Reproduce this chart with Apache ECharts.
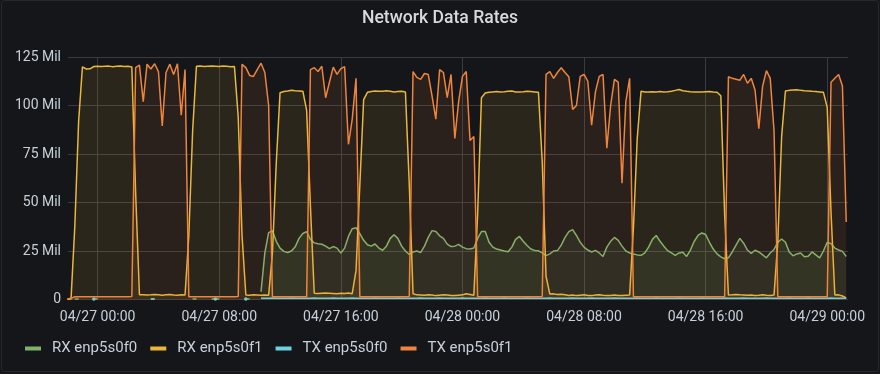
<!DOCTYPE html>
<html><head><meta charset="utf-8">
<script src="https://cdn.jsdelivr.net/npm/echarts@6/dist/echarts.min.js"></script>
<style>html,body{margin:0;padding:0;background:#161719}#c{width:880px;height:374px}</style>
</head><body><div id="c"></div>
<script>
// ---- data (values in millions) ----
const startTime = '2020-04-26T22:00';
const stepMinutes = 15;
const axisMin = '2020-04-26T22:03';
const axisMax = '2020-04-29T01:22';
const xTickTimes = ['2020-04-27T00:00','2020-04-27T08:00','2020-04-27T16:00','2020-04-28T00:00','2020-04-28T08:00','2020-04-28T16:00','2020-04-29T00:00'];
const yTicks = [0, 25, 50, 75, 100, 125];
const seriesNames = ['RX enp5s0f0', 'RX enp5s0f1', 'TX enp5s0f0', 'TX enp5s0f1'];

const rxF0 = [
null,null,0.3,0.3,null,null,null,0.3,0.3,null,
null,null,null,null,null,null,null,null,null,null,
null,null,0.3,0.3,null,null,null,null,null,null,
null,null,null,0.3,0.3,null,null,null,0.3,0.3,
0.3,null,null,null,null,null,null,0.3,0.3,null,
null,4,24,34.5,35.5,30,26.5,24.8,24.2,25,
27.2,31.5,34,35,31,29.2,28.7,28.5,27.5,26.2,
27.3,26.5,24,26.5,32.5,36.5,37,34,30.5,28.2,
27.5,28.6,26.5,25.4,27.5,31.5,33.4,31.5,27.5,25,
23.2,24.5,25,24.2,27.5,32,35.5,35,32.8,31.5,
28.5,27.3,27.5,28.4,27,26.2,26,26.5,31.5,35,
35,29.5,27,26,25.5,25,24.6,27,31,32.5,
30,27.8,26,25.3,25.1,24,22.6,23.5,25,25.2,
28,32,35,36,33,29.5,27,25.5,24.5,25.3,
24,22.2,27,30,32,30.5,27.5,25,24,23.4,
23,22.8,24,27,31,33,30,27.5,25.2,24,
22.8,24,24.3,22.2,25.5,30,33,34.3,33.5,29.5,
26,23.5,22,21,21.5,24.5,28,31.5,29,25.5,
23.8,25.4,24.5,23,21.5,24,25.8,29.5,31.2,29.5,
24.5,22.5,23.5,24,22,22.3,24.5,23,21.5,25,
29.5,28.8,26.5,25.5,24.8,22.2
];

const rxF1 = [
0,0.3,38,92,119.9,118.8,118.9,120.1,120.2,120.1,
120.2,120.3,120.0,120.2,120.4,120.1,120.2,119.8,55,2.4,
2.5,2.3,2.4,2.6,2.4,2.2,2.4,2.6,2.3,2.2,
2.4,2.3,33,87,120.2,120.3,120.1,120.2,120.3,120.2,
120.1,120.3,120.2,120.0,120.1,94,33,2.3,2.2,2.4,
2.3,2.2,2.3,2.2,24,70,106.6,107.2,107.5,107.9,
107.6,107.5,107.4,97.5,48,3.2,3.1,3.2,3.3,3.2,
3.1,3.0,3.2,3.1,3.3,3.0,15,59,103,106.8,
107.2,107.5,107.3,107.4,107.6,107.3,107.0,107.2,107.4,107.0,
60,3.0,2.4,2.3,2.2,2.5,2.3,2.0,2.2,2.4,
2.3,2.1,2.0,2.2,2.4,3.0,2.6,2.2,44,104,
106.4,106.8,107.0,107.2,107.0,107.1,107.3,107.5,107.0,106.9,
107.1,107.4,107.2,107.0,106.8,71,12,2.8,2.9,2.6,
2.7,2.5,2.1,2.3,2.0,2.2,2.4,2.1,2.0,2.3,
2.5,2.2,2.0,2.1,2.3,2.1,2.0,2.2,2.3,37,
83,107.3,107.0,106.9,107.1,107.0,107.2,107.0,107.1,107.4,
107.8,108.2,107.6,107.3,107.1,107.0,106.9,107.0,107.1,107.2,
106.9,106.8,105,44,2.3,2.4,2.6,2.4,2.3,2.2,
2.3,2.1,2.2,2.4,2.2,2.1,2.3,30,84,107.5,
107.8,108.0,108.1,107.8,107.6,107.5,107.3,107.2,107.0,106.8,
99,45,2.3,2.4,1.8,0.8
];

const txF0 = [
null,null,null,null,null,null,null,0.3,null,null,
null,null,null,null,null,null,null,null,null,null,
null,null,0.3,0.3,null,null,null,null,null,null,
null,null,null,null,null,null,null,null,null,0.3,
null,null,null,null,null,null,null,0.3,null,null,
null,0.6,0.7,0.7,0.8,0.7,0.7,0.6,0.7,0.8,
0.7,0.7,0.6,0.7,0.7,0.8,0.7,0.6,0.7,0.7,
0.8,0.7,0.7,0.6,0.7,0.8,0.7,0.7,0.7,0.6,
0.7,0.8,0.7,0.7,0.6,0.7,0.7,0.8,0.7,0.7,
0.6,0.7,0.7,0.8,0.7,0.7,0.6,0.7,0.8,0.7,
0.7,0.6,0.7,0.7,0.8,0.7,0.7,0.6,0.7,0.7,
0.8,0.7,0.7,0.6,0.7,0.8,0.7,0.7,0.7,0.6,
0.7,0.8,0.7,0.7,0.6,0.7,0.7,0.8,0.7,0.7,
0.6,0.7,0.7,0.8,0.7,0.7,0.6,0.7,0.8,0.7,
0.7,0.6,0.7,0.7,0.8,0.7,0.7,0.6,0.7,0.7,
0.8,0.7,0.7,0.6,0.7,0.8,0.7,0.7,0.7,0.6,
0.7,0.8,0.7,0.7,0.6,0.7,0.7,0.8,0.7,0.7,
0.6,0.7,0.7,0.8,0.7,0.7,0.6,0.7,0.8,0.7,
0.7,0.6,0.7,0.7,0.8,0.7,0.7,0.6,0.7,0.7,
0.8,0.7,0.7,0.6,0.7,0.8,0.7,0.7,0.7,0.6,
0.7,0.8,0.7,0.7,0.6,0.6
];

const txF1 = [
0.3,0.6,1.4,1.4,1.4,1.4,1.4,1.4,1.4,1.4,
1.4,1.4,1.4,1.4,1.4,1.4,1.4,1.5,119.5,120.8,
102,121.3,118.8,121.5,117.5,89.5,117,121.3,116,121.5,
95,118.5,1.4,1.4,1.4,1.4,1.4,1.4,1.4,1.4,
1.4,1.4,1.4,1.4,1.4,1.5,121.2,119.5,115.5,115,
118.5,121.8,117,100,1.4,1.4,1.4,1.4,1.4,1.4,
1.4,1.4,1.4,1.4,118.5,119.5,117.5,120.2,104,112,
119.8,116,119,120,80,93,114,1.4,1.4,1.4,
1.4,1.4,1.4,1.4,1.4,1.4,1.4,1.4,1.4,1.4,
1.6,117.5,114.5,113.5,116.5,116,105,93,118.5,117,
104,116,83,102,115,117.5,82,84,1.4,1.4,
1.4,1.4,1.4,1.4,1.4,1.4,1.4,1.4,1.4,1.4,
1.4,1.4,1.4,1.4,1.4,1.5,116,117.5,114,117,
119.5,117,114.8,98,100,115,116,112.5,89.8,107,
115,116,78,100,113.5,112,60,102,114,1.4,
1.4,1.4,1.4,1.4,1.4,1.4,1.4,1.4,1.4,1.4,
1.4,1.4,1.4,1.4,1.4,1.4,1.4,1.4,1.4,1.4,
1.4,1.4,1.4,1.5,114.8,114,113.5,113,116,111.5,
114,108,88,110,118,114,87,1.4,1.4,1.4,
1.4,1.4,1.4,1.4,1.4,1.4,1.4,1.4,1.4,1.4,
1.4,112,114,116,110,40
];

const seriesColors = ['#7EB26D', '#EAB839', '#6ED0E0', '#EF843C'];

// ---- build ----
const t0 = new Date(startTime).getTime();
const stepMs = stepMinutes * 60000;
function pairs(arr) { return arr.map((v, i) => [t0 + i * stepMs, v]); }
function isolatedSize(arr) {
  return function (val, params) {
    const i = params.dataIndex;
    const prev = i > 0 ? arr[i - 1] : null;
    const next = i < arr.length - 1 ? arr[i + 1] : null;
    return (arr[i] != null && prev == null && next == null) ? 3.5 : 0;
  };
}
const pad = n => (n < 10 ? '0' : '') + n;
function fmtTime(v) {
  const d = new Date(v);
  return pad(d.getMonth() + 1) + '/' + pad(d.getDate()) + ' ' + pad(d.getHours()) + ':' + pad(d.getMinutes());
}
const tickVals = xTickTimes.map(s => new Date(s).getTime());
const allData = [rxF0, rxF1, txF0, txF1];
const textColor = '#c7d0d9';
const gridColor = '#393b40';

const chart = echarts.init(document.getElementById('c'), null, { renderer: 'canvas' });
chart.setOption({
  backgroundColor: '#151619',
  animation: false,
  textStyle: { fontFamily: 'Roboto, "Noto Sans", sans-serif' },
  title: {
    text: 'Network Data Rates', left: 'center', top: 10, padding: 0,
    textStyle: { color: '#d8d9da', fontSize: 17.6, fontWeight: 500, fontFamily: 'Roboto, sans-serif' }
  },
  graphic: [{
    type: 'rect', silent: true, z: -1,
    shape: { x: 1.5, y: 0.5, width: 877, height: 371, r: 3 },
    style: { fill: 'none', stroke: '#26282c', lineWidth: 1 }
  }],
  legend: {
    left: 25, top: 341, padding: 0, icon: 'rect', itemWidth: 16, itemHeight: 4, itemGap: 13,
    data: seriesNames,
    textStyle: { color: textColor, fontSize: 15, padding: [0, 0, 0, 6], fontFamily: 'Roboto, sans-serif' }
  },
  grid: { left: 68, right: 32, top: 57, bottom: 74.5, containLabel: false },
  xAxis: {
    type: 'value',
    min: new Date(axisMin).getTime(),
    max: new Date(axisMax).getTime(),
    axisLine: { show: false },
    axisTick: { show: false, customValues: tickVals },
    axisLabel: { customValues: tickVals, formatter: fmtTime, color: textColor, fontSize: 14, margin: 11, hideOverlap: false, showMinLabel: true, showMaxLabel: true },
    splitLine: { show: true, showMinLine: true, showMaxLine: true, lineStyle: { color: gridColor, width: 1 } }
  },
  yAxis: {
    type: 'value', min: 0, max: 125, interval: 25,
    axisLine: { show: false }, axisTick: { show: false },
    axisLabel: { color: textColor, fontSize: 14, margin: 7, formatter: v => (v === 0 ? '0' : v + ' Mil') },
    splitLine: { lineStyle: { color: gridColor, width: 1 } }
  },
  series: seriesNames.map((name, k) => ({
    name: name,
    type: 'line',
    data: pairs(allData[k]),
    color: seriesColors[k],
    showSymbol: true,
    showAllSymbol: true,
    symbol: 'circle',
    symbolSize: isolatedSize(allData[k]),
    connectNulls: false,
    smooth: false,
    lineStyle: { width: 1.5, color: seriesColors[k] },
    itemStyle: { color: seriesColors[k] },
    areaStyle: { color: seriesColors[k], opacity: 0.1 },
    emphasis: { disabled: true },
    z: 2 + k
  }))
});
</script></body></html>
